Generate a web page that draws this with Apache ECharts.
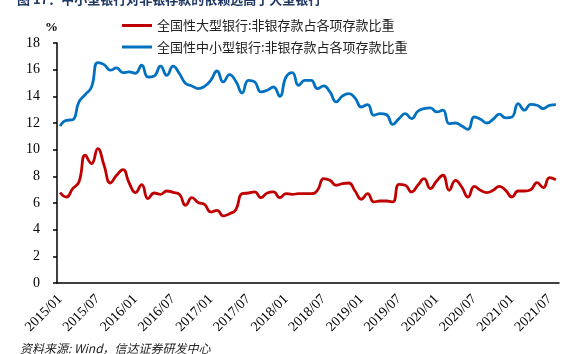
<!DOCTYPE html>
<html>
<head>
<meta charset="utf-8">
<script src="https://cdn.jsdelivr.net/npm/echarts@6/dist/echarts.min.js"></script>
<style>
  html, body { margin: 0; padding: 0; background: #fff; }
</style>
</head>
<body>
<div id="chart" style="width:581px;height:354px;"></div>
<script type="text/javascript">
// months 2015/01 .. 2021/08
var months = [];
for (var y = 2015; y <= 2021; y++) {
    for (var m = 1; m <= 12; m++) {
        if (y === 2021 && m > 8) break;
        months.push(y + '/' + (m < 10 ? '0' + m : m));
    }
}

var seriesNames = ['全国性大型银行:非银存款占各项存款比重', '全国性中小型银行:非银存款占各项存款比重'];

// 大型银行
var bigBank = [
    6.78, 6.45, 7.08, 7.58, 9.58, 8.96, 10.08, 8.83, 7.5, 8.08, 8.5, 7.5,
    6.78, 7.38, 6.33, 6.75, 6.65, 6.9, 6.8, 6.65, 5.83, 6.4, 6.03, 5.9,
    5.33, 5.45, 5.03, 5.2, 5.5, 6.7, 6.75, 6.83, 6.4, 6.75, 6.83, 6.4,
    6.7, 6.65, 6.7, 6.7, 6.7, 6.95, 7.83, 7.7, 7.33, 7.45, 7.5, 6.9,
    6.28, 6.7, 6.08, 6.15, 6.15, 6.08, 7.4, 7.33, 6.83, 7.33, 7.83, 7.08,
    7.65, 8.08, 6.95, 7.7, 7.2, 6.45, 7.25, 6.95, 6.78, 6.95, 7.25, 6.95,
    6.45, 6.9, 6.9, 7.0, 7.53, 7.15, 7.9, 7.75
];

// 中小型银行
var smallBank = [
    11.78, 12.2, 12.25, 13.58, 14.13, 14.7, 16.53, 16.38, 15.96, 16.13, 15.78, 15.83,
    15.73, 16.33, 15.45, 15.53, 16.26, 15.58, 16.26, 15.71, 14.96, 14.78, 14.58, 14.75,
    15.2, 15.9, 15.08, 15.63, 15.13, 14.25, 15.2, 15.08, 14.33, 14.46, 14.7, 14.0,
    15.45, 15.78, 14.83, 15.2, 15.2, 14.58, 14.78, 14.33, 13.58, 14.03, 14.2, 13.88,
    13.2, 13.38, 12.58, 12.7, 12.63, 11.9, 12.33, 12.7, 12.33, 12.88, 13.08, 13.13,
    12.83, 12.96, 11.96, 12.0, 11.78, 11.53, 12.45, 12.28, 12.0, 12.28, 12.66, 12.38,
    12.45, 13.46, 12.96, 13.4, 13.33, 13.08, 13.33, 13.38
];

var serifFont = '"Liberation Serif", "Times New Roman", serif';
var cjkFont = '"Noto Sans CJK SC", sans-serif';

var myChart = echarts.init(document.getElementById('chart'));
var option = {
    backgroundColor: '#fff',
    animation: false,
    grid: {
        left: 57,
        right: 22,
        top: 43,
        bottom: 71,
        containLabel: false
    },
    legend: {
        orient: 'vertical',
        left: 122,
        top: 19,
        padding: 0,
        icon: 'rect',
        itemWidth: 30,
        itemHeight: 3,
        itemGap: 8.5,
        data: seriesNames,
        textStyle: {
            fontFamily: cjkFont,
            fontSize: 13,
            color: '#222'
        }
    },
    graphic: [
        {
            type: 'text',
            left: 17,
            top: -7,
            style: {
                text: '图 17：中小型银行对非银存款的依赖远高于大型银行',
                font: 'bold 13px "Noto Sans CJK SC", sans-serif',
                fill: '#203864'
            }
        },
        {
            type: 'text',
            left: 45,
            top: 21,
            style: {
                text: '%',
                font: 'bold 13px "Liberation Serif", serif',
                fill: '#000'
            }
        },
        {
            type: 'text',
            left: 20,
            top: 342,
            style: {
                text: '资料来源: Wind，信达证券研发中心',
                font: 'italic 12px "Noto Sans CJK SC", sans-serif',
                fill: '#222'
            }
        }
    ],
    xAxis: {
        type: 'category',
        boundaryGap: true,
        data: months,
        axisLine: { lineStyle: { color: '#000', width: 1.5 } },
        axisTick: {
            interval: 5,
            length: 5,
            lineStyle: { color: '#000', width: 1.5 }
        },
        axisLabel: {
            interval: 5,
            rotate: 45,
            margin: 14,
            fontFamily: serifFont,
            fontSize: 14,
            color: '#000'
        },
        splitLine: { show: false }
    },
    yAxis: {
        type: 'value',
        min: 0,
        max: 18,
        interval: 2,
        axisLine: { show: true, lineStyle: { color: '#000', width: 1.5 } },
        axisTick: { show: true, length: 4, lineStyle: { color: '#000', width: 1.5 } },
        axisLabel: {
            margin: 17,
            fontFamily: serifFont,
            fontSize: 14,
            color: '#000'
        },
        splitLine: { show: false }
    },
    series: [
        {
            name: seriesNames[0],
            type: 'line',
            data: bigBank,
            smooth: true,
            symbol: 'none',
            lineStyle: { color: '#C00000', width: 2.8 },
            itemStyle: { color: '#C00000' }
        },
        {
            name: seriesNames[1],
            type: 'line',
            data: smallBank,
            smooth: true,
            symbol: 'none',
            lineStyle: { color: '#0070C0', width: 2.8 },
            itemStyle: { color: '#0070C0' }
        }
    ]
};
myChart.setOption(option);
</script>
</body>
</html>
